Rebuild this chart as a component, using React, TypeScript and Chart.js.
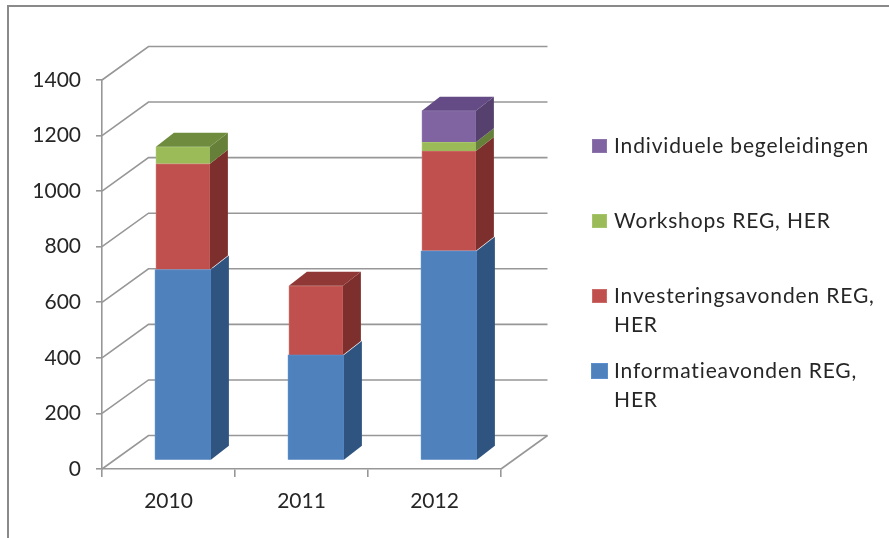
import React, { useEffect, useRef } from "react";
import { Chart, registerables } from "chart.js";

Chart.register(...registerables);

const categories = ["2010", "2011", "2012"];
const informatieavonden = [687, 380, 755];
const investeringsavonden = [381, 249, 359];
const workshops = [61, 0, 31];
const begeleidingen = [0, 0, 114];
const yTicks = [0, 200, 400, 600, 800, 1000, 1200, 1400];

const FONT = "Lato, Carlito, Calibri, sans-serif";
const TEXT = "#262626";
const AXIS = "#979797";
const WALL = { dx: 46.5, dy: -33.5 };
const BAR_SHIFT = { dx: 14.4, dy: -8.5 };
const DEPTH = { dx: 18, dy: -14 };

const styles = [
  { front: "#4F81BD", side: "#2F5480", top: "#3A6290", edge: "#5A8FD0" },
  { front: "#C0504D", side: "#7D2F2D", top: "#8F3836", edge: "#CB6A67" },
  { front: "#9BBB59", side: "#66803A", top: "#6F8C3E", edge: "#A6C469" },
  { front: "#8064A2", side: "#55406E", top: "#644B85", edge: "#8D74AC" },
];

const seriesList = [
  { label: "Informatieavonden REG, HER", data: informatieavonden, thickness: 56 },
  { label: "Investeringsavonden REG, HER", data: investeringsavonden, thickness: 54 },
  { label: "Workshops REG, HER", data: workshops, thickness: 54 },
  { label: "Individuele begeleidingen", data: begeleidingen, thickness: 54 },
];

const poly = (ctx: CanvasRenderingContext2D, pts: number[][], fill: string) => {
  ctx.fillStyle = fill;
  ctx.beginPath();
  pts.forEach(([x, y], i) => (i ? ctx.lineTo(x, y) : ctx.moveTo(x, y)));
  ctx.closePath();
  ctx.fill();
};

const scene3d = {
  id: "scene3d",
  beforeDraw(chart: any) {
    const { ctx, width, height } = chart;
    ctx.save();
    ctx.strokeStyle = "#8a8a8a";
    ctx.lineWidth = 2;
    ctx.beginPath();
    ctx.moveTo(8, height);
    ctx.lineTo(8, 6);
    ctx.lineTo(width, 6);
    ctx.stroke();
    ctx.restore();
  },
  beforeDatasetsDraw(chart: any) {
    const { ctx, scales } = chart;
    const { left, right, bottom } = chart.chartArea;
    ctx.save();
    ctx.strokeStyle = AXIS;
    ctx.lineWidth = 1.6;
    yTicks.forEach((v) => {
      const y = scales.y.getPixelForValue(v);
      ctx.beginPath();
      ctx.moveTo(left, y);
      ctx.lineTo(left + WALL.dx, y + WALL.dy);
      ctx.lineTo(right + WALL.dx, y + WALL.dy);
      ctx.stroke();
    });
    ctx.beginPath();
    ctx.moveTo(right, bottom);
    ctx.lineTo(right + WALL.dx, bottom + WALL.dy);
    ctx.stroke();
    ctx.restore();
  },
  beforeDatasetDraw(chart: any) {
    chart.ctx.save();
    chart.ctx.translate(BAR_SHIFT.dx, BAR_SHIFT.dy);
  },
  afterDatasetDraw(chart: any) {
    chart.ctx.restore();
  },
  afterDatasetsDraw(chart: any) {
    const { ctx } = chart;
    ctx.save();
    ctx.translate(BAR_SHIFT.dx, BAR_SHIFT.dy);
    categories.forEach((_, c) => {
      let last = -1;
      seriesList.forEach((s, d) => {
        if (s.data[c] > 0) last = d;
      });
      seriesList.forEach((s, d) => {
        if (s.data[c] <= 0) return;
        const bar = chart.getDatasetMeta(d).data[c];
        const r = bar.x + s.thickness / 2;
        const l = bar.x - s.thickness / 2;
        poly(ctx, [
          [r, bar.y], [r + DEPTH.dx, bar.y + DEPTH.dy],
          [r + DEPTH.dx, bar.base + DEPTH.dy], [r, bar.base],
        ], styles[d].side);
        if (d === last) {
          poly(ctx, [
            [l, bar.y], [l + DEPTH.dx, bar.y + DEPTH.dy],
            [r + DEPTH.dx, bar.y + DEPTH.dy], [r, bar.y],
          ], styles[d].top);
        }
      });
    });
    ctx.restore();
  },
  afterDraw(chart: any) {
    const { ctx } = chart;
    ctx.save();
    ctx.font = `21px ${FONT}`;
    ctx.textBaseline = "middle";
    (ctx as any).letterSpacing = "0.85px";
    const order = [3, 2, 1, 0];
    order.forEach((d, i) => {
      const cy = 146 + i * 75;
      const pad = d === 0 ? 1 : 0;
      ctx.fillStyle = styles[d].edge;
      ctx.fillRect(592 - pad, cy - 7 - pad, 15 + 2 * pad, 14 + 2 * pad);
      ctx.fillStyle = styles[d].front;
      ctx.fillRect(593 - pad, cy - 6 - pad, 13 + 2 * pad, 12 + 2 * pad);
      ctx.fillStyle = TEXT;
      const words = seriesList[d].label.split(" ");
      const lines: string[] = [];
      let cur = "";
      words.forEach((w) => {
        const next = cur ? `${cur} ${w}` : w;
        if (ctx.measureText(next).width > 270 && cur) {
          lines.push(cur);
          cur = w;
        } else cur = next;
      });
      lines.push(cur);
      lines.forEach((t, j) => ctx.fillText(t, 614, cy + j * 29.5));
    });
    ctx.restore();
  },
};

export default function App() {
  const ref = useRef<HTMLCanvasElement>(null);
  useEffect(() => {
    document.body.style.margin = "0";
    const chart = new Chart(ref.current!, {
      type: "bar",
      data: {
        labels: categories,
        datasets: seriesList.map((s, d) => ({
          label: s.label,
          data: s.data,
          backgroundColor: styles[d].front,
          borderColor: styles[d].edge,
          borderWidth: 1,
          barThickness: s.thickness,
          stack: "a",
        })),
      },
      plugins: [scene3d],
      options: {
        responsive: false,
        animation: false,
        layout: { padding: { top: 80, right: 388, bottom: 0, left: 0 } },
        plugins: { legend: { display: false }, tooltip: { enabled: false }, title: { display: false } },
        scales: {
          x: {
            stacked: true,
            afterFit: (s: any) => { s.height = 69; },
            grid: { drawOnChartArea: false, color: AXIS, lineWidth: 1.6, tickLength: 8 },
            border: { color: AXIS, width: 1.6 },
            ticks: { color: TEXT, font: { family: FONT, size: 21 }, padding: 12, maxRotation: 0 },
          },
          y: {
            stacked: true,
            min: 0,
            max: 1400,
            afterFit: (s: any) => { s.width = 102; },
            afterBuildTicks: (s: any) => { s.ticks = yTicks.map((value) => ({ value })); },
            grid: { drawOnChartArea: false, color: AXIS, lineWidth: 1.6, tickLength: 6 },
            border: { color: AXIS, width: 1.6 },
            ticks: {
              color: TEXT,
              font: { family: FONT, size: 21 },
              padding: 15,
              callback: (v: any) => String(v),
            },
          },
        },
      },
    } as any);
    return () => chart.destroy();
  }, []);
  return (
    <canvas
      ref={ref}
      width={889}
      height={538}
      style={{ display: "block", width: 889, height: 538, filter: "blur(0.45px)" }}
    />
  );
}
